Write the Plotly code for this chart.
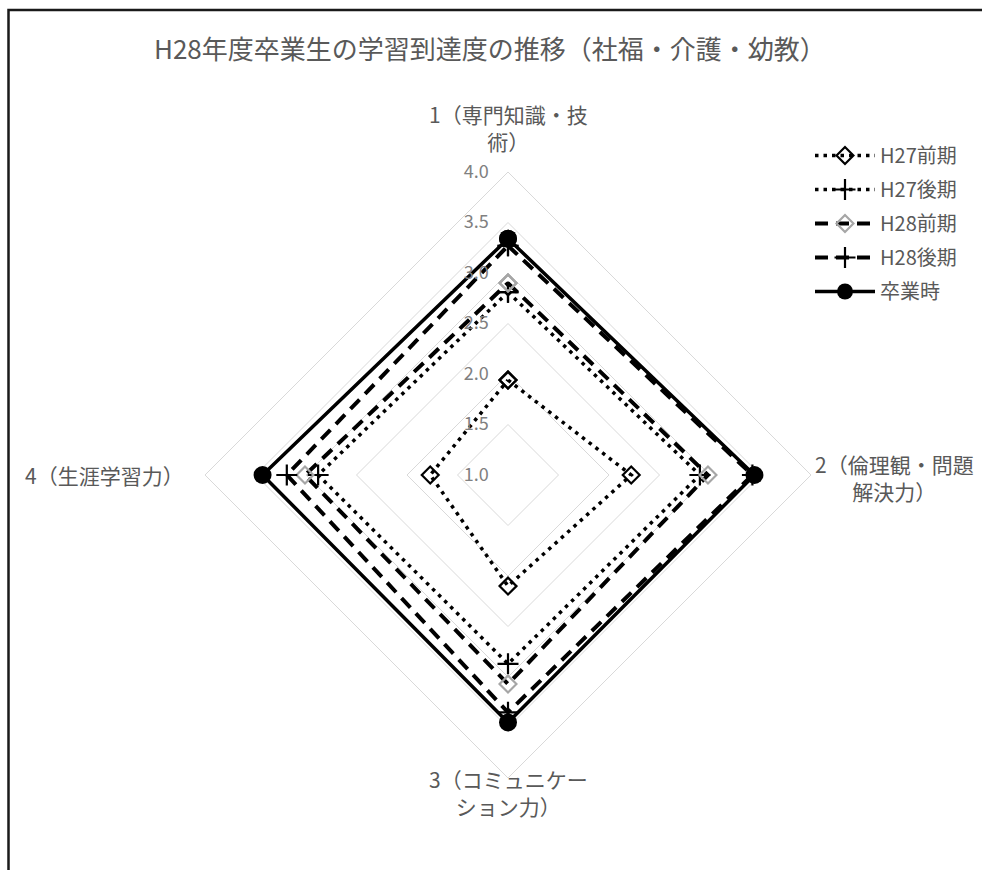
import plotly.graph_objects as go

W, H = 982, 870
title = "H28年度卒業生の学習到達度の推移（社福・介護・幼教）"
categories = ["1（専門知識・技<br>術）", "2（倫理観・問題<br>解決力）", "3（コミュニケー<br>ション力）", "4（生涯学習力）"]
series_names = ["H27前期", "H27後期", "H28前期", "H28後期", "卒業時"]
h27_first = [1.94, 2.22, 2.10, 1.77]
h27_second = [2.81, 2.90, 2.87, 2.88]
h28_first = [2.90, 2.98, 3.07, 3.01]
h28_second = [3.27, 3.42, 3.35, 3.19]
graduation = [3.34, 3.44, 3.45, 3.43]
radial_ticks = [1.0, 1.5, 2.0, 2.5, 3.0, 3.5, 4.0]

series_values = [h27_first, h27_second, h28_first, h28_second, graduation]
styles = [
    dict(line=dict(color="black", width=3.5, dash="3.5px,5px"),
         marker=dict(symbol="diamond-open", size=13, color="black", line=dict(width=2.2, color="black"))),
    dict(line=dict(color="black", width=3.5, dash="3.5px,5px"),
         marker=dict(symbol="cross-thin", size=15, color="black", line=dict(width=2.2, color="black"))),
    dict(line=dict(color="black", width=4, dash="13px,8px"),
         marker=dict(symbol="diamond-open", size=13, color="#a6a6a6", line=dict(width=2.2, color="#a6a6a6"))),
    dict(line=dict(color="black", width=4, dash="13px,8px"),
         marker=dict(symbol="cross-thin", size=15, color="black", line=dict(width=2.2, color="black"))),
    dict(line=dict(color="black", width=3.5),
         marker=dict(symbol="circle", size=18, color="black")),
]

cx, cy, R = 508, 475, 303
fig = go.Figure()
for name, vals, st in zip(series_names, series_values, styles):
    fig.add_trace(go.Scatterpolar(
        r=vals + vals[:1], theta=categories + categories[:1],
        mode="lines+markers", name=name, legendgroup=name,
        line=st["line"], marker=st["marker"],
    ))

fig.update_layout(
    width=W, height=H, margin=dict(l=0, r=0, t=0, b=0),
    paper_bgcolor="white", plot_bgcolor="white",
    font=dict(family="Noto Sans CJK JP", color="#595959", size=16),
    showlegend=True,
    legend=dict(x=810 / W, y=1 - 136 / H, xanchor="left", yanchor="top",
                font=dict(size=20, color="#595959"), itemwidth=60,
                traceorder="grouped", tracegroupgap=5, bgcolor="rgba(0,0,0,0)"),
    polar=dict(
        domain=dict(x=[(cx - R) / W, (cx + R) / W], y=[(H - cy - R) / H, (H - cy + R) / H]),
        bgcolor="white",
        gridshape="linear",
        angularaxis=dict(direction="clockwise", rotation=90, showgrid=False,
                         showticklabels=False, ticks="", showline=True,
                         linecolor="#d9d9d9", linewidth=1),
        radialaxis=dict(range=[1, 4], tickvals=radial_ticks,
                        ticktext=[f"{v:.1f}\u00a0\u00a0\u00a0\u00a0" for v in radial_ticks],
                        angle=90, tickangle=90, side="counterclockwise",
                        showline=False, ticks="", gridcolor="#d9d9d9", gridwidth=1,
                        tickfont=dict(size=18, color="#808080")),
    ),
)

# category labels
label_pos = [
    (cx, 127),
    (894, 478),
    (cx, 792),
    (104, 475),
]
for text, (x, y) in zip(categories, label_pos):
    fig.add_annotation(x=x / W, y=1 - y / H, xref="paper", yref="paper", text=text,
                       showarrow=False, xanchor="center", yanchor="middle", align="center",
                       font=dict(size=21, color="#595959"))

fig.add_annotation(x=490 / W, y=1 - 47 / H, xref="paper", yref="paper", text=title,
                   showarrow=False, xanchor="center", yanchor="middle",
                   font=dict(size=26, color="#595959"))

fig.add_shape(type="rect", xref="paper", yref="paper",
              x0=8.5 / W, x1=1.05, y0=-0.05, y1=1 - 10 / H,
              line=dict(color="#1a1a1a", width=2.5), fillcolor="rgba(0,0,0,0)", layer="above")

fig.write_html("out.html", config={"displayModeBar": False},
               post_script="document.body.style.margin='0';")
